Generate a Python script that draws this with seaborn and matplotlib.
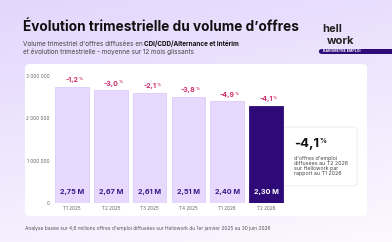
import numpy as np
import pandas as pd
import matplotlib
matplotlib.use('Agg')
import matplotlib.pyplot as plt
import seaborn as sns
from matplotlib.patches import FancyBboxPatch

# donnees
trimestres = ['T1 2025', 'T2 2025', 'T3 2025', 'T4 2025', 'T1 2026', 'T2 2026']
volumes = [2750000, 2670000, 2610000, 2510000, 2400000, 2300000]
volume_labels = ['2,75 M', '2,67 M', '2,61 M', '2,51 M', '2,40 M', '2,30 M']
evolutions = ['-1,2', '-3,0', '-2,1', '-3,8', '-4,9', '-4,1']
y_ticks = [0, 1000000, 2000000, 3000000]
y_tick_labels = ['0', '1 000 000', '2 000 000', '3 000 000']

sns.set_style('white')
plt.rcParams['font.family'] = ['Inter', 'DejaVu Sans']

W, H = 392, 242
fig = plt.figure(figsize=(W / 100, H / 100), dpi=100)
renderer = fig.canvas.get_renderer()

# fond en degrade lavande
bg = fig.add_axes([0, 0, 1, 1])
yy, xx = np.mgrid[0:1:100j, 0:1:100j]
t = np.clip(0.75 * yy + 0.25 * (1 - xx), 0, 1)
c0 = np.array([0.985, 0.975, 1.0])
c1 = np.array([0.89, 0.84, 0.99])
img = c0[None, None, :] * (1 - t[..., None]) + c1[None, None, :] * t[..., None]
bg.imshow(img[::-1], extent=[0, 1, 0, 1], aspect='auto', origin='upper')
bg.set_xlim(0, 1)
bg.set_ylim(0, 1)
bg.axis('off')


def fx(px):
    return px / W


def fy(py):
    return 1 - py / H


def after(txt, gap=0.0):
    # position x (fraction figure) juste apres un texte
    bb = txt.get_window_extent(renderer=renderer)
    return bb.x1 / W + gap / W


# panneau blanc
bg.add_patch(FancyBboxPatch((fx(25), fy(216)), fx(342), (216 - 64) / H,
                            boxstyle='round,pad=0,rounding_size=0.015',
                            fc='white', ec='none'))

# titre et sous-titre
fig.text(fx(23), fy(27), 'Évolution trimestrielle du volume d’offres',
         fontsize=9.8, fontweight='bold', color='#111111', va='center')
s1 = fig.text(fx(23), fy(44), "Volume trimestriel d'offres diffusées en",
              fontsize=4.6, color='#444444', va='center')
fig.text(after(s1, 1.3), fy(44), 'CDI/CDD/Alternance et Intérim',
         fontsize=4.6, color='#111111', fontweight='bold', va='center')
fig.text(fx(23), fy(52), 'et évolution trimestrielle - moyenne sur 12 mois glissants',
         fontsize=4.6, color='#444444', va='center')

# logo
fig.text(fx(322), fy(29), 'hell', fontsize=8, fontweight='bold', color='#222222',
         va='center', ha='left')
fig.text(fx(327), fy(41), 'work', fontsize=8, fontweight='bold', color='#222222',
         va='center', ha='left')
bg.add_patch(FancyBboxPatch((fx(319), fy(54)), fx(80), 5 / H,
                            boxstyle='round,pad=0,rounding_size=0.008',
                            fc='#2e0a78', ec='none'))
fig.text(fx(323), fy(51.5), 'BAROMÈTRE EMPLOI', fontsize=2.6, color='white',
         fontweight='bold', va='center')

# pied de page
fig.text(fx(25), fy(228),
         "Analyse basée sur 4,6 millions offres d'emploi diffusées sur Hellowork du 1er janvier 2025 au 30 juin 2026",
         fontsize=3.5, color='#555555', va='center')

# graphique
df = pd.DataFrame({'trimestre': trimestres, 'volume': volumes})
ax = fig.add_axes([fx(52.6), fy(203), fx(232.8), (203 - 76) / H])
ax.patch.set_alpha(0)
couleurs = ['#e6d9fd'] * 5 + ['#2e0a78']
sns.barplot(data=df, x='trimestre', y='volume', hue='trimestre', palette=couleurs,
            width=0.87, legend=False, ax=ax, saturation=1)
for p, c in zip(ax.patches, couleurs):
    p.set_edgecolor('#dccdfa' if c != '#2e0a78' else '#2e0a78')
    p.set_linewidth(0.6)

ax.set_ylim(0, 3000000)
ax.set_xlim(-0.5, 5.5)
ax.set_yticks(y_ticks)
ax.set_yticklabels(y_tick_labels)
ax.tick_params(axis='y', labelsize=3.4, colors='#666666', length=0, pad=2)
ax.tick_params(axis='x', labelsize=3.4, colors='#666666', length=0, pad=2)
ax.set_xlabel('')
ax.set_ylabel('')
for s in ax.spines.values():
    s.set_visible(False)

for i, (v, lab, ev) in enumerate(zip(volumes, volume_labels, evolutions)):
    col = 'white' if i == len(volumes) - 1 else '#3a1a8a'
    ax.text(i, 260000, lab, ha='center', va='center', fontsize=5.2,
            fontweight='bold', color=col)
    e = ax.text(i, v + 150000, ev, ha='center', va='center', fontsize=5,
                fontweight='bold', color='#d02a6a')
    bb = e.get_window_extent(renderer=renderer)
    fig.text(bb.x1 / W + 0.3 / W, bb.y1 / H - 1.5 / H, '%', ha='left', va='center',
             fontsize=2.8, fontweight='bold', color='#d02a6a')

# encadre
bg.add_patch(FancyBboxPatch((fx(283), fy(186)), fx(74), (186 - 127) / H,
                            boxstyle='round,pad=0,rounding_size=0.012',
                            fc='white', ec='#ece6f5', lw=0.6))
big = fig.text(fx(294), fy(144), '-4,1', fontsize=9.5, fontweight='bold',
               color='#111111', va='center')
bb = big.get_window_extent(renderer=renderer)
fig.text(bb.x1 / W + 0.5 / W, bb.y1 / H - 3 / H, '%', fontsize=5, fontweight='bold',
         color='#111111', va='center')
fig.text(fx(294), fy(166), "d'offres d'emploi\ndiffusées au T2 2026\nsur Hellowork par\nrapport au T1 2026",
         fontsize=3.8, color='#444444', va='center', linespacing=1.05)

fig.savefig('out.png', dpi=100)
